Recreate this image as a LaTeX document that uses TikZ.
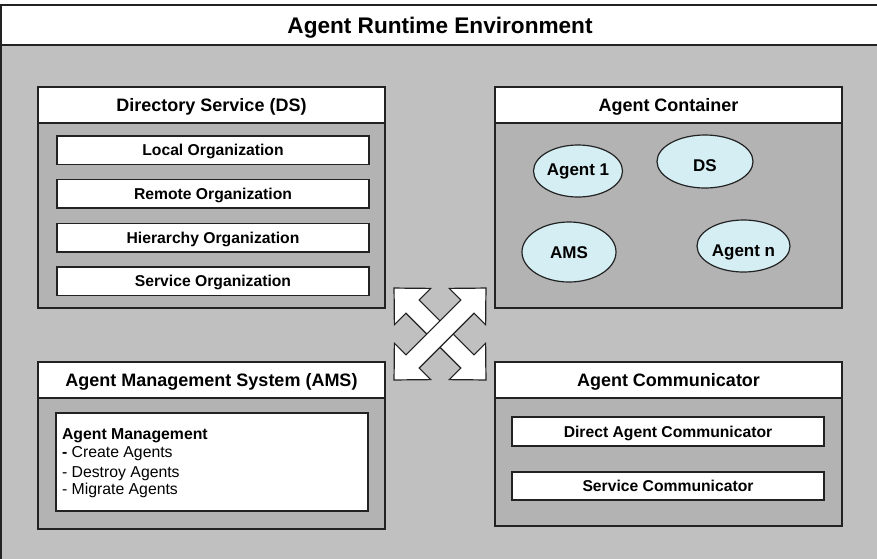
\documentclass[tikz,border=0pt]{standalone}
\usepackage{fontspec}
\setmainfont{Liberation Sans}
\usetikzlibrary{shapes.geometric}
\definecolor{bggray}{HTML}{C0C0C0}
\definecolor{boxgray}{HTML}{B3B3B3}
\definecolor{agentblue}{HTML}{D5EEF3}
\definecolor{edgecol}{HTML}{222222}
\begin{document}
\begin{tikzpicture}[x=1pt,y=-1pt,
  envframe/.style={draw=edgecol, line width=1.6pt, fill=bggray, rectangle, inner sep=0pt, outer sep=0pt, anchor=north west},
  envhead/.style={draw=edgecol, line width=1.6pt, fill=white, rectangle, inner sep=0pt, outer sep=0pt, anchor=north west,
    font=\fontsize{22.6}{26}\selectfont\bfseries, text height=16.2pt, text depth=0pt},
  panel/.style={draw=edgecol, line width=1.5pt, fill=boxgray, rectangle, inner sep=0pt, outer sep=0pt, anchor=north west},
  panelhead/.style={draw=edgecol, line width=1.5pt, fill=white, rectangle, inner sep=0pt, outer sep=0pt, anchor=north west,
    minimum width=347, minimum height=36, font=\fontsize{18}{21}\selectfont\bfseries, text height=12.9pt, text depth=0pt},
  item/.style={draw=edgecol, line width=1.3pt, fill=white, rectangle, inner sep=0pt, outer sep=0pt, anchor=north west,
    minimum width=312, font=\fontsize{15.7}{19}\selectfont\bfseries, text height=11.2pt, text depth=0pt},
  agent/.style={draw=edgecol, line width=1.2pt, fill=agentblue, ellipse, inner sep=0pt, outer sep=0pt,
    font=\fontsize{17}{20}\selectfont\bfseries, text height=12.2pt, text depth=0pt},
  listtxt/.style={inner sep=0pt, outer sep=0pt, anchor=base west, font=\fontsize{15.8}{18.5}\selectfont},
  crossarrow/.style={draw=edgecol, line width=1.2pt, fill=white, line join=miter}
]
\useasboundingbox (0,0) rectangle (877,558);

% environment
\node[envframe, minimum width=878, minimum height=562] (env) at (1,5) {};
\node[envhead, minimum width=878, minimum height=40] (envtitle) at (1,5) {Agent Runtime Environment};

% Directory Service
\node[panel, minimum width=347, minimum height=221] (ds) at (38,87) {};
\node[panelhead] (dshead) at (38,87) {Directory Service (DS)};
\node[item, minimum height=28.5] (local) at (57,136) {Local Organization};
\node[item, minimum height=28.5] (remote) at (57,179.5) {Remote Organization};
\node[item, minimum height=28.5] (hier) at (57,223.5) {Hierarchy Organization};
\node[item, minimum height=28.5] (serv) at (57,267) {Service Organization};

% Agent Container
\node[panel, minimum width=347, minimum height=221] (ac) at (495,87) {};
\node[panelhead] (achead) at (495,87) {Agent Container};
\node[agent, minimum width=89, minimum height=52, text height=12.2pt, text depth=4pt] (ag1) at (578,171) {Agent 1};
\node[agent, minimum width=96, minimum height=53, text height=20.2pt] (dsE) at (705,161.5) {DS};
\node[agent, minimum width=94, minimum height=60] (amsE) at (569,252) {AMS};
\node[agent, minimum width=93, minimum height=52, text height=20.2pt] (agn) at (743.5,246) {Agent n};

% Agent Management System
\node[panel, minimum width=347, minimum height=167] (ams) at (38,362) {};
\node[panelhead] (amshead) at (38,362) {Agent Management System (AMS)};
\node[item, minimum height=98] (amsbox) at (56,413) {};
\node[listtxt] (am0) at (62,439.3) {\bfseries Agent Management};
\node[listtxt] (am1) at (62,457.3) {\textbf{-} Create Agents};
\node[listtxt] (am2) at (62,477) {- Destroy Agents};
\node[listtxt] (am3) at (62,494.7) {- Migrate Agents};

% Agent Communicator
\node[panel, minimum width=347, minimum height=164] (comm) at (495,362) {};
\node[panelhead] (commhead) at (495,362) {Agent Communicator};
\node[item, minimum height=29] (direct) at (512,417) {Direct Agent Communicator};
\node[item, minimum height=28] (servcomm) at (512,472) {Service Communicator};

% double cross arrow
\begin{scope}[shift={(440,334)}, rotate=-45]
  \draw[crossarrow] (-65,0) -- (-38.8,25.7) -- (-38.8,9.3) -- (38.8,9.3) -- (38.8,25.7) -- (65,0)
    -- (38.8,-25.7) -- (38.8,-9.3) -- (-38.8,-9.3) -- (-38.8,-25.7) -- cycle;
\end{scope}
\begin{scope}[shift={(440,334)}, rotate=45]
  \draw[crossarrow] (-65,0) -- (-38.8,25.7) -- (-38.8,9.3) -- (38.8,9.3) -- (38.8,25.7) -- (65,0)
    -- (38.8,-25.7) -- (38.8,-9.3) -- (-38.8,-9.3) -- (-38.8,-25.7) -- cycle;
\end{scope}
\end{tikzpicture}
\end{document}
